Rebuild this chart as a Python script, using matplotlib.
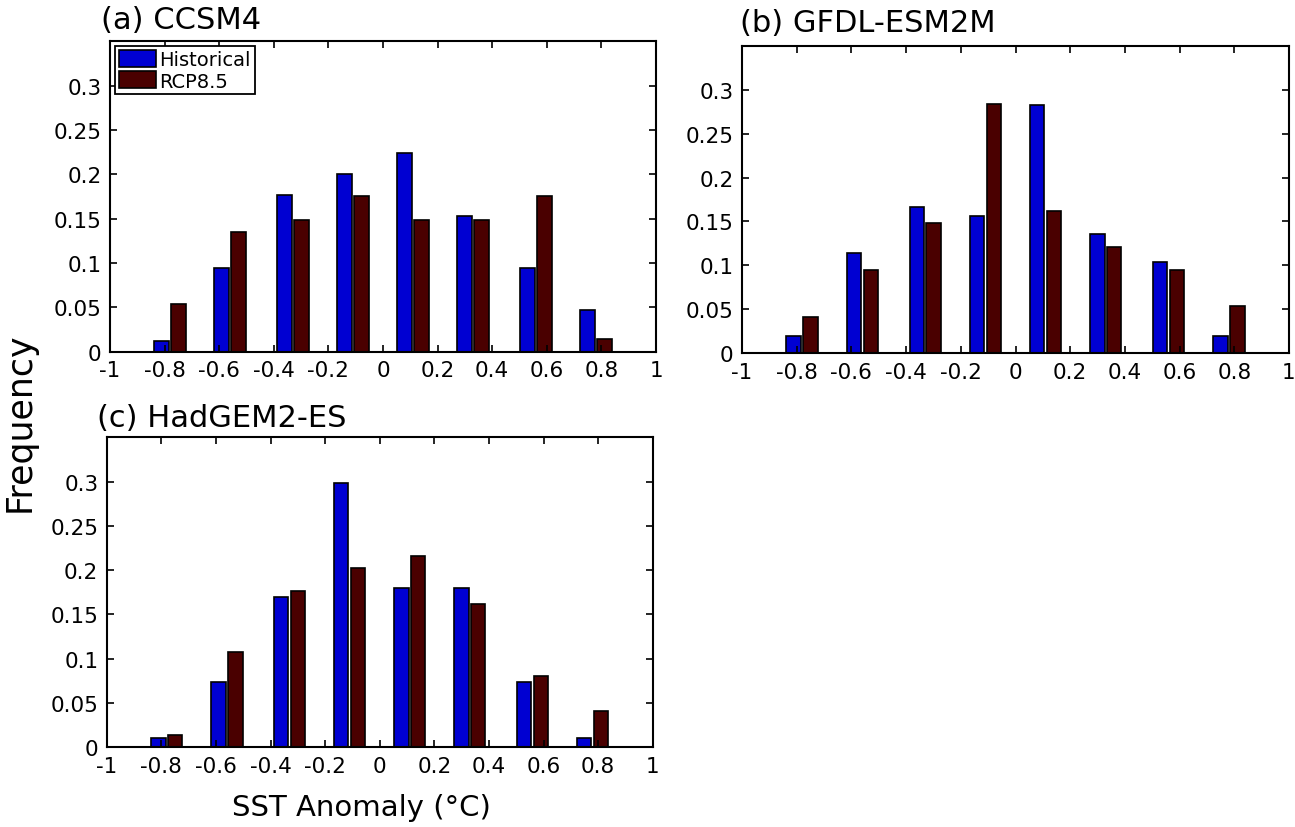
import numpy as np
import matplotlib
matplotlib.use('Agg')
import matplotlib.pyplot as plt

# bin centres of the SST anomaly histograms
bin_centers = [-0.78, -0.56, -0.33, -0.11, 0.11, 0.33, 0.56, 0.78]

# (a) CCSM4
ccsm4_hist = [0.012, 0.094, 0.177, 0.200, 0.224, 0.153, 0.094, 0.047]
ccsm4_rcp = [0.054, 0.135, 0.149, 0.176, 0.149, 0.149, 0.176, 0.014]
# (b) GFDL-ESM2M
gfdl_hist = [0.020, 0.114, 0.167, 0.156, 0.282, 0.136, 0.104, 0.020]
gfdl_rcp = [0.041, 0.095, 0.148, 0.284, 0.162, 0.121, 0.095, 0.054]
# (c) HadGEM2-ES
hadgem_hist = [0.010, 0.074, 0.170, 0.298, 0.180, 0.180, 0.074, 0.010]
hadgem_rcp = [0.014, 0.108, 0.176, 0.203, 0.216, 0.162, 0.081, 0.041]

panel_titles = ['(a) CCSM4', '(b) GFDL-ESM2M', '(c) HadGEM2-ES']
series_names = ['Historical', 'RCP8.5']
xticks = [-1, -0.8, -0.6, -0.4, -0.2, 0, 0.2, 0.4, 0.6, 0.8, 1]
xtick_labels = ['-1', '-0.8', '-0.6', '-0.4', '-0.2', '0', '0.2', '0.4', '0.6', '0.8', '1']
yticks = [0, 0.05, 0.1, 0.15, 0.2, 0.25, 0.3]
ytick_labels = ['0', '0.05', '0.1', '0.15', '0.2', '0.25', '0.3']

plt.rcParams['font.family'] = ['DejaVu Sans']

W, H = 1295, 828
fig = plt.figure(figsize=(W / 100, H / 100), dpi=100)

# axes boxes in pixels: left, top, right, bottom
boxes = [(110, 42.3, 656, 352.7),
         (742, 46.7, 1289, 354.3),
         (106.7, 438.3, 652.7, 748.3)]
title_pos = [(-0.016, 1.042), (-0.003, 1.048), (-0.018, 1.036)]
data = [(ccsm4_hist, ccsm4_rcp), (gfdl_hist, gfdl_rcp), (hadgem_hist, hadgem_rcp)]

blue = '#0000d2'
dark_red = '#4a0000'
x = np.array(bin_centers)
bw = 0.053
off = 0.031

for i, (l, t, r, b) in enumerate(boxes):
    ax = fig.add_axes([l / W, 1 - b / H, (r - l) / W, (b - t) / H])
    hist, rcp = data[i]
    ax.bar(x - off, hist, width=bw, color=blue, edgecolor='black', linewidth=1.2,
           label=series_names[0])
    ax.bar(x + off, rcp, width=bw, color=dark_red, edgecolor='black', linewidth=1.2,
           label=series_names[1])
    ax.set_xlim(-1, 1)
    ax.set_ylim(0, 0.35)
    ax.set_xticks(xticks)
    ax.set_xticklabels(xtick_labels)
    ax.set_yticks(yticks)
    ax.set_yticklabels(ytick_labels)
    ax.tick_params(direction='in', top=True, right=True, length=5, width=1.2,
                   labelsize=15.5, pad=6)
    for s in ax.spines.values():
        s.set_linewidth(1.5)
    ax.text(title_pos[i][0], title_pos[i][1], panel_titles[i], transform=ax.transAxes,
            fontsize=22, ha='left', va='baseline')
    if i == 0:
        leg = ax.legend(loc='upper left', bbox_to_anchor=(0.0, 1.0), fontsize=14,
                        frameon=True, fancybox=False, edgecolor='black', framealpha=1,
                        handlelength=1.9, handleheight=0.95, handletextpad=0.2,
                        borderpad=0.2, labelspacing=0.12, borderaxespad=0.25)
        leg.get_frame().set_linewidth(1.3)

fig.text(20 / W, 1 - 422 / H, 'Frequency', rotation=90, fontsize=25,
         ha='center', va='center')
fig.text(361 / W, 1 - 808 / H, 'SST Anomaly (°C)', fontsize=21,
         ha='center', va='center')

fig.savefig('out.png', dpi=100)
